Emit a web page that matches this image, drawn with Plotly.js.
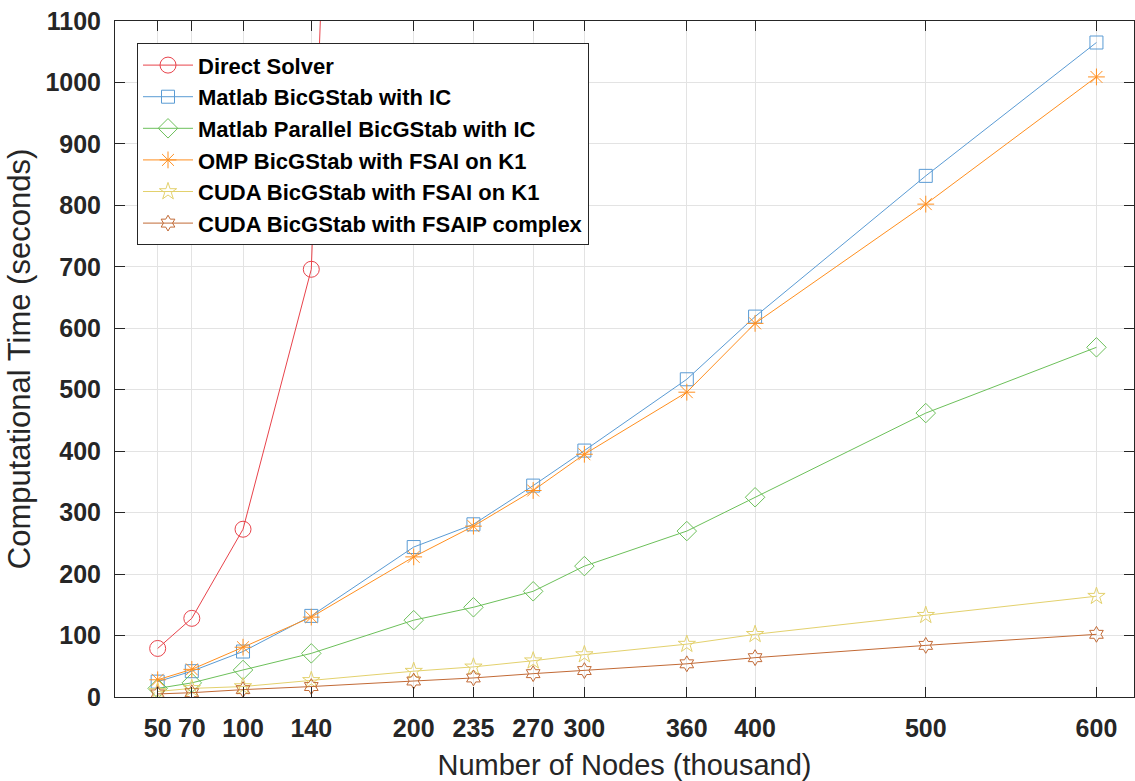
<!DOCTYPE html>
<html>
<head>
<meta charset="utf-8">
<script src="https://cdn.plot.ly/plotly-3.0.1.min.js"></script>
<style>html,body{margin:0;padding:0;background:#fff;}#chart{width:1135px;height:781px;}</style>
</head>
<body>
<div id="chart"></div>
<script>
// Number of nodes (thousand)
const nodes = [50, 70, 100, 140, 200, 235, 270, 300, 360, 400, 500, 600];
const directNodes = [50, 70, 100, 140, 200];
const directSolver = [79, 128, 273, 696, 5270];
const matlabIC = [25, 42, 74, 132, 244, 281, 344, 401, 517, 619, 848, 1065];
const matlabParallelIC = [14, 23, 44, 71, 125, 146, 172, 213, 270, 325, 462, 569];
const ompFSAI = [28, 45, 81, 130, 228, 278, 336, 395, 496, 608, 802, 1009];
const cudaFSAI = [9, 14, 17, 27, 42, 49, 59, 69, 86, 102, 133, 164];
const cudaFSAIP = [5, 7, 12, 17, 26, 31, 38, 43, 54, 64, 84, 102];
const tickNodes = [50, 70, 100, 140, 200, 235, 270, 300, 360, 400, 500, 600];
const yTicks = [0, 100, 200, 300, 400, 500, 600, 700, 800, 900, 1000, 1100];

const names = ['Direct Solver', 'Matlab BicGStab with IC', 'Matlab Parallel BicGStab with IC',
  'OMP BicGStab with FSAI on K1', 'CUDA BicGStab with FSAI on K1', 'CUDA BicGStab with FSAIP complex'];
const colors = ['#e8434b', '#5a9bd4', '#6cc05a', '#ff8f1f', '#e3d16d', '#c26a36'];

function tr(x, y, i, symbol, size) {
  return {
    x: x, y: y, name: names[i], type: 'scatter', mode: 'lines+markers',
    line: {color: colors[i], width: 1},
    marker: {symbol: symbol, size: size, color: colors[i], line: {color: colors[i], width: 1}}
  };
}

const data = [
  tr(directNodes, directSolver, 0, 'circle-open', 16),
  tr(nodes, matlabIC, 1, 'square-open', 13),
  tr(nodes, matlabParallelIC, 2, 'diamond-open', 15),
  tr(nodes, ompFSAI, 3, 'asterisk-open', 14),
  tr(nodes, cudaFSAI, 4, 'star-open', 13),
  tr(nodes, cudaFSAIP, 5, 'hexagram-open', 12)
];

const axisCommon = {
  showline: true, linecolor: '#262626', linewidth: 1, mirror: 'ticks',
  ticks: 'inside', ticklen: 10, tickcolor: '#262626', tickwidth: 1,
  showgrid: true, gridcolor: '#e3e3e3', gridwidth: 1, zeroline: false,
  tickfont: {family: 'Liberation Sans, Arial, sans-serif', size: 25, color: '#262626', weight: 'bold'},
  automargin: false
};

const layout = {
  width: 1135, height: 781,
  margin: {l: 115, r: 1, t: 21, b: 84},
  paper_bgcolor: '#fff', plot_bgcolor: '#fff',
  showlegend: true,
  xaxis: Object.assign({}, axisCommon, {
    range: [25, 622], tickmode: 'array', tickvals: tickNodes, ticktext: tickNodes.map(String),
    ticklabelstandoff: 9,
    title: {text: 'Number of Nodes (thousand)', standoff: 17,
      font: {family: 'Liberation Sans, Arial, sans-serif', size: 29, color: '#262626'}}
  }),
  yaxis: Object.assign({}, axisCommon, {
    range: [0, 1100], tickmode: 'array', tickvals: yTicks, ticktext: yTicks.map(String),
    ticklabelstandoff: 8,
    title: {text: 'Computational Time (seconds)', standoff: 5,
      font: {family: 'Liberation Sans, Arial, sans-serif', size: 31, color: '#262626'}}
  }),
  legend: {
    x: 0.0216, y: 0.967, xanchor: 'left', yanchor: 'top',
    bgcolor: '#ffffff', bordercolor: '#262626', borderwidth: 1,
    font: {family: 'Liberation Sans, Arial, sans-serif', size: 22, color: '#000', weight: 'bold'},
    itemwidth: 50, tracegroupgap: 0
  }
};

Plotly.newPlot('chart', data, layout, {displayModeBar: false, staticPlot: true});
</script>
</body>
</html>
